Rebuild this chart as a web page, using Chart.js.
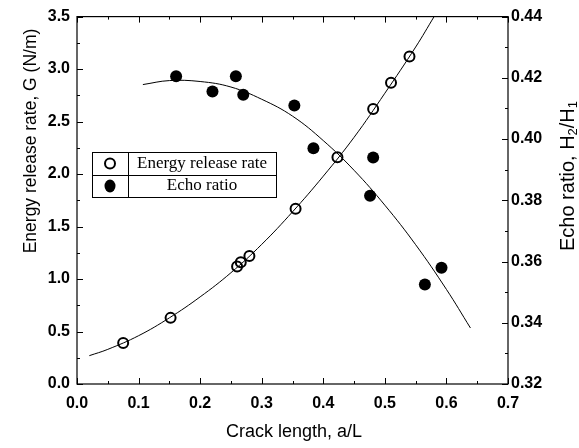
<!DOCTYPE html>
<html>
<head>
<meta charset="utf-8">
<script src="https://cdn.jsdelivr.net/npm/chart.js@4.4.1/dist/chart.umd.min.js"></script>
<style>
  html, body { margin: 0; padding: 0; background: #fff; }
</style>
</head>
<body>
<canvas id="c" width="579" height="448"></canvas>
<script>
// Energy release rate G (N/m), open circles, left axis
const energyX = [0.075, 0.152, 0.26, 0.266, 0.28, 0.355, 0.423, 0.481, 0.51, 0.54];
const energyY = [0.39, 0.63, 1.12, 1.16, 1.22, 1.67, 2.16, 2.62, 2.87, 3.12];
// fitted curve through G
const energyFitX = [0.02, 0.05, 0.1, 0.15, 0.2, 0.25, 0.3, 0.35, 0.4, 0.45, 0.5, 0.55, 0.58];
const energyFitY = [0.27, 0.33, 0.46, 0.63, 0.83, 1.06, 1.33, 1.64, 1.98, 2.35, 2.77, 3.21, 3.5];

// Echo ratio H2/H1, filled circles, right axis
const echoX = [0.161, 0.22, 0.258, 0.27, 0.353, 0.384, 0.476, 0.481, 0.565, 0.592];
const echoY = [0.4205, 0.4155, 0.4205, 0.4145, 0.411, 0.397, 0.3815, 0.394, 0.3525, 0.358];
// fitted curve through echo ratio
const echoFitX = [0.107, 0.15, 0.2, 0.25, 0.3, 0.35, 0.4, 0.45, 0.5, 0.55, 0.6, 0.639];
const echoFitY = [0.4178, 0.4191, 0.4188, 0.417, 0.413, 0.4075, 0.3995, 0.3898, 0.3784, 0.3655, 0.3509, 0.3383];

const xRange = [0, 0.7];
const gRange = [0, 3.5];
const echoRange = [0.32, 0.44];

const legendLabels = ['Energy release rate', 'Echo ratio'];

const pts = (xs, ys) => xs.map((x, i) => ({ x, y: ys[i] }));

const tickFont = { family: 'Liberation Sans, Arial, sans-serif', size: 16, weight: 'bold' };
const sans = '"Liberation Sans", Arial, sans-serif';

// inward ticks, frame, titles and the boxed legend
const decor = {
  id: 'decor',
  afterDraw(chart) {
    const { ctx, chartArea: a, scales } = chart;
    ctx.save();
    ctx.strokeStyle = '#000';
    ctx.lineWidth = 1.2;
    ctx.strokeRect(a.left, a.top, a.right - a.left, a.bottom - a.top);

    ctx.lineWidth = 1;
    ctx.beginPath();
    for (let i = 0; i <= 14; i++) {
      const px = Math.round(scales.x.getPixelForValue(i * 0.05)) + 0.5;
      const len = i % 2 ? 3 : 6;
      ctx.moveTo(px, a.bottom); ctx.lineTo(px, a.bottom - len);
      ctx.moveTo(px, a.top); ctx.lineTo(px, a.top + len);
    }
    for (let i = 0; i <= 14; i++) {
      const py = Math.round(scales.y.getPixelForValue(i * 0.25)) + 0.5;
      const len = i % 2 ? 3 : 6;
      ctx.moveTo(a.left, py); ctx.lineTo(a.left + len, py);
    }
    for (let i = 0; i <= 12; i++) {
      const py = Math.round(scales.y1.getPixelForValue(0.32 + i * 0.01)) + 0.5;
      const len = i % 2 ? 3 : 6;
      ctx.moveTo(a.right, py); ctx.lineTo(a.right - len, py);
    }
    ctx.stroke();

    // axis titles
    ctx.fillStyle = '#000';
    ctx.font = '18px ' + sans;
    ctx.textAlign = 'center';
    ctx.textBaseline = 'middle';
    ctx.fillText('Crack length, a/L', 294, 432);

    ctx.save();
    ctx.translate(31, 141);
    ctx.rotate(-Math.PI / 2);
    ctx.font = '17.5px ' + sans;
    ctx.fillText('Energy release rate, G (N/m)', 0, 0);
    ctx.restore();

    ctx.save();
    ctx.translate(568, 176);
    ctx.rotate(-Math.PI / 2);
    const parts = [['Echo ratio, H', 20, 0], ['2', 13, 5], ['/H', 20, 0], ['1', 13, 5]];
    let total = 0;
    parts.forEach(([t, s]) => { ctx.font = s + 'px ' + sans; total += ctx.measureText(t).width; });
    let cx = -total / 2;
    ctx.textAlign = 'left';
    parts.forEach(([t, s, dy]) => {
      ctx.font = s + 'px ' + sans;
      ctx.fillText(t, cx, dy);
      cx += ctx.measureText(t).width;
    });
    ctx.restore();

    // legend box
    const L = 92, R = 276, T = 152, B = 197, mid = 175, div = 128;
    ctx.fillStyle = '#fff';
    ctx.fillRect(L, T, R - L, B - T);
    ctx.strokeStyle = '#000';
    ctx.lineWidth = 1;
    ctx.strokeRect(L + 0.5, T + 0.5, R - L, B - T);
    ctx.beginPath();
    ctx.moveTo(L, mid + 0.5); ctx.lineTo(R, mid + 0.5);
    ctx.moveTo(div + 0.5, T); ctx.lineTo(div + 0.5, B);
    ctx.stroke();

    ctx.lineWidth = 2;
    ctx.beginPath();
    ctx.arc(110, 163.5, 5, 0, Math.PI * 2);
    ctx.stroke();
    ctx.fillStyle = '#000';
    ctx.beginPath();
    ctx.ellipse(110, 186, 5.5, 6.5, 0, 0, Math.PI * 2);
    ctx.fill();

    ctx.font = '17px "Liberation Serif", "Times New Roman", serif';
    ctx.textAlign = 'center';
    ctx.fillText(legendLabels[0], (div + R) / 2, 164);
    ctx.fillText(legendLabels[1], (div + R) / 2, 186);
    ctx.restore();
  }
};

new Chart(document.getElementById('c'), {
  type: 'scatter',
  data: {
    datasets: [
      {
        label: legendLabels[1],
        data: pts(echoX, echoY),
        yAxisID: 'y1',
        pointRadius: 6,
        pointBackgroundColor: '#000',
        pointBorderColor: '#000',
        pointBorderWidth: 0,
        showLine: false,
      },
      {
        label: legendLabels[0],
        data: pts(energyX, energyY),
        yAxisID: 'y',
        pointRadius: 5,
        pointBackgroundColor: 'rgba(0,0,0,0)',
        pointBorderColor: '#000',
        pointBorderWidth: 2,
        showLine: false,
      },
      {
        label: 'G fit',
        data: pts(energyFitX, energyFitY),
        yAxisID: 'y',
        showLine: true,
        pointRadius: 0,
        borderColor: '#000',
        borderWidth: 1,
        tension: 0.4,
      },
      {
        label: 'echo fit',
        data: pts(echoFitX, echoFitY),
        yAxisID: 'y1',
        showLine: true,
        pointRadius: 0,
        borderColor: '#000',
        borderWidth: 1,
        tension: 0.4,
      },
    ],
  },
  options: {
    responsive: false,
    animation: false,
    layout: { padding: { top: 15 } },
    plugins: { legend: { display: false }, tooltip: { enabled: false } },
    scales: {
      x: {
        type: 'linear',
        min: xRange[0], max: xRange[1],
        grid: { display: false, drawTicks: false },
        border: { display: false },
        ticks: { stepSize: 0.1, color: '#000', font: tickFont, padding: 10, callback: (v) => v.toFixed(1) },
        afterFit: (s) => { s.height = 64; },
      },
      y: {
        type: 'linear',
        position: 'left',
        min: gRange[0], max: gRange[1],
        grid: { display: false, drawTicks: false },
        border: { display: false },
        ticks: { stepSize: 0.5, color: '#000', font: tickFont, padding: 7, callback: (v) => v.toFixed(1) },
        afterFit: (s) => { s.width = 77; },
      },
      y1: {
        type: 'linear',
        position: 'right',
        min: echoRange[0], max: echoRange[1],
        grid: { display: false, drawTicks: false },
        border: { display: false },
        ticks: { stepSize: 0.02, color: '#000', font: tickFont, padding: 3, callback: (v) => v.toFixed(2) },
        afterFit: (s) => { s.width = 71; },
      },
    },
  },
  plugins: [decor],
});
</script>
</body>
</html>
